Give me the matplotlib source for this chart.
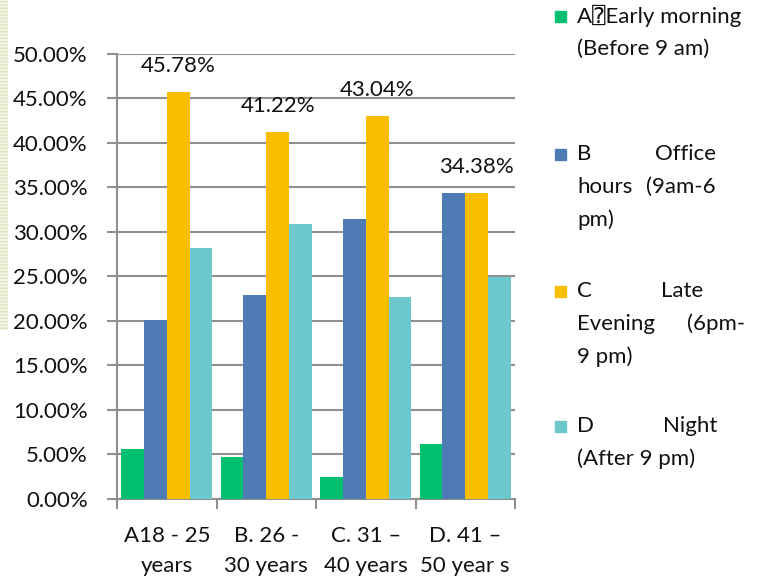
import matplotlib
matplotlib.use('Agg')
import matplotlib.pyplot as plt
from matplotlib.patches import Rectangle
import numpy as np

plt.rcParams['font.family'] = ['Lato', 'DejaVu Sans', 'DejaVu Sans Mono']

# age groups on the x axis
age_groups = ['A18 - 25\nyears', 'B. 26 -\n30 years', 'C. 31 \u2013\n40 years', 'D. 41 \u2013\n50 year s']

# share of respondents per time slot (%)
early_morning = [5.64, 4.66, 2.46, 6.19]
office_hours = [20.10, 22.86, 31.50, 34.38]
late_evening = [45.78, 41.22, 43.04, 34.38]
night = [28.19, 30.92, 22.67, 24.90]

series = [early_morning, office_hours, late_evening, night]
colors = ['#00BF6F', '#4F7BB5', '#F9BE00', '#6CC8CC']

# legend text, one list of (word, x-pixel, align) rows per series
legend_rows = [
    [[('A\u2370Early morning', 577, 'left')], [('(Before 9 am)', 577, 'left')]],
    [[('B', 577, 'left'), ('Office', 716, 'right')],
     [('hours', 577, 'left'), ('(9am-6', 716, 'right')],
     [('pm)', 577, 'left')]],
    [[('C', 577, 'left'), ('Late', 703, 'right')],
     [('Evening', 577, 'left'), ('(6pm-', 745, 'right')],
     [('9 pm)', 577, 'left')]],
    [[('D', 577, 'left'), ('Night', 717, 'right')],
     [('(After 9 pm)', 577, 'left')]],
]
legend_top = [16, 154, 291, 426]

W, H = 768, 579
fs = 16
fig = plt.figure(figsize=(W / 100, H / 100), dpi=100)
ax = fig.add_axes([117 / W, 1 - 498.7 / H, (515 - 117) / W, (498.7 - 54) / H])

grid_c = '#8F8F8F'
txt_c = '#111111'
x = np.arange(len(age_groups))
bw = 0.229
for i, (vals, c) in enumerate(zip(series, colors)):
    ax.bar(x + (i - 1.5) * bw, vals, bw, color=c, zorder=3)

# data labels on late evening
for xi, v in zip(x, late_evening):
    ax.annotate(f'{v:.2f}%', (xi + 0.5 * bw, v), xytext=(0, 16), textcoords='offset pixels',
                ha='center', va='bottom', fontsize=fs, color=txt_c, zorder=4)

ax.set_ylim(0, 50)
ax.set_xlim(-0.5, 3.5)
ax.set_yticks(np.arange(0, 51, 5))
ax.set_yticklabels([f'{t:.2f}%' for t in np.arange(0, 51, 5)])
ax.set_xticks(x)
ax.set_xticklabels(age_groups, linespacing=1.6)
ax.set_xticks(np.arange(-0.5, 4, 1), minor=True)
ax.tick_params(axis='x', which='major', length=0, pad=20, labelsize=fs, colors=txt_c)
ax.tick_params(axis='x', which='minor', length=7, width=1.5, color=grid_c)
ax.tick_params(axis='y', length=7, width=1.5, color=grid_c, labelsize=fs, pad=14,
               labelcolor=txt_c)

ax.yaxis.grid(True, color=grid_c, linewidth=1.5, zorder=0)
ax.set_axisbelow(True)
for s in ['top', 'right']:
    ax.spines[s].set_visible(False)
for s in ['left', 'bottom']:
    ax.spines[s].set_color(grid_c)
    ax.spines[s].set_linewidth(1.5)

# legend drawn by hand to keep the justified look
line_h = 33
for c, rows, top in zip(colors, legend_rows, legend_top):
    fig.patches.append(Rectangle((555 / W, 1 - (top + 6) / H), 11 / W, 11 / H,
                                 transform=fig.transFigure, color=c))
    for j, row in enumerate(rows):
        for word, px, al in row:
            fig.text(px / W, 1 - (top + j * line_h) / H, word, ha=al, va='center',
                     fontsize=fs, color=txt_c)

# pale striped strip on the left edge of the slide
fig.patches.append(Rectangle((0, 1 - 330 / H), 8 / W, 330 / H, transform=fig.transFigure,
                             facecolor='#f2f6e4', edgecolor='#dde7c2', hatch='-----',
                             linewidth=0, zorder=0))

fig.savefig('out.png', dpi=100)
